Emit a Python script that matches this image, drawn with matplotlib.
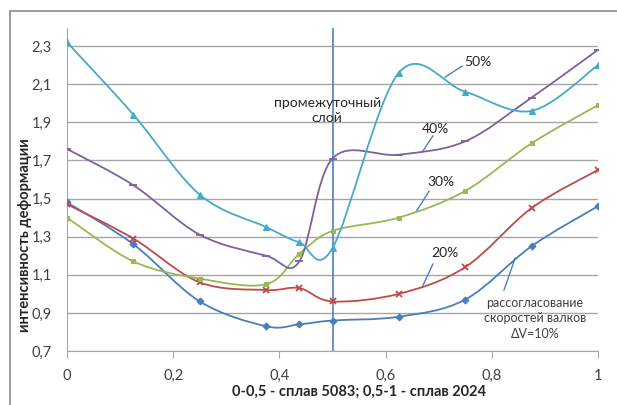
import numpy as np
import matplotlib.pyplot as plt
from matplotlib.path import Path
from matplotlib.patches import PathPatch, Rectangle
from matplotlib.ticker import FuncFormatter

plt.rcParams['font.family'] = ['Lato', 'DejaVu Sans']

# положение по толщине: 0-0,5 сплав 5083, 0,5-1 сплав 2024
x = [0, 0.125, 0.25, 0.375, 0.4375, 0.5, 0.625, 0.75, 0.875, 1]

dv10 = [1.48, 1.26, 0.96, 0.83, 0.84, 0.86, 0.88, 0.97, 1.25, 1.46]
dv20 = [1.47, 1.29, 1.06, 1.02, 1.03, 0.96, 1.00, 1.14, 1.45, 1.65]
dv30 = [1.40, 1.17, 1.08, 1.05, 1.21, 1.33, 1.40, 1.54, 1.79, 1.99]
dv40 = [1.76, 1.57, 1.31, 1.20, 1.17, 1.71, 1.73, 1.80, 2.03, 2.28]
dv50 = [2.32, 1.94, 1.52, 1.35, 1.27, 1.24, 2.16, 2.06, 1.96, 2.20]

series = [
    (dv10, '#4A7EBB', 'D', 3.5),
    (dv20, '#BE4B48', 'x', 4),
    (dv30, '#98B954', 's', 3.5),
    (dv40, '#7D60A0', '_', 6),
    (dv50, '#46AAC5', '^', 4.5),
]


def smooth_path(xs, ys):
    # сглаженная линия как в Excel: кубические Безье через точки
    p = np.column_stack([xs, ys]).astype(float)
    n = len(p)
    verts = [p[0]]
    codes = [Path.MOVETO]
    for i in range(n - 1):
        p0 = p[i - 1] if i > 0 else p[i]
        p3 = p[i + 2] if i + 2 < n else p[i + 1]
        c1 = p[i] + (p[i + 1] - p0) / 6
        c2 = p[i + 1] - (p3 - p[i]) / 6
        verts += [c1, c2, p[i + 1]]
        codes += [Path.CURVE4] * 3
    return Path(verts, codes)


fig = plt.figure(figsize=(6.17, 4.05), dpi=100)
ax = fig.add_axes([0.1086, 0.1333, 0.8606, 0.7977])

fig.patches.append(Rectangle((10 / 617, -0.1), 1.1, 1 - 11 / 405 + 0.1,
                             transform=fig.transFigure, fill=False,
                             edgecolor='#8c8c8c', linewidth=1.2))

for ys, c, m, ms in series:
    ax.add_patch(PathPatch(smooth_path(x, ys), facecolor='none',
                           edgecolor=c, linewidth=1.3, zorder=3))
    ax.plot(x, ys, linestyle='none', marker=m, color=c, markersize=ms,
            markeredgewidth=1.3 if m in 'x_' else 0.8, zorder=4)

ax.axvline(0.5, color='#4F81BD', linewidth=1.2, zorder=2)

ax.set_xlim(0, 1)
ax.set_ylim(0.7, 2.395)
ax.set_yticks(np.arange(0.7, 2.31, 0.2))
ax.set_xticks([0, 0.2, 0.4, 0.6, 0.8, 1])
comma = FuncFormatter(lambda v, pos: ('%g' % round(v, 2)).replace('.', ','))
ax.xaxis.set_major_formatter(comma)
ax.yaxis.set_major_formatter(comma)
ax.grid(axis='y', color='#a6a6a6', linewidth=1)
ax.set_axisbelow(True)
for s in ['top', 'right']:
    ax.spines[s].set_visible(False)
ax.spines['left'].set_color('#a6a6a6')
ax.spines['bottom'].set_color('#a6a6a6')
ax.tick_params(axis='y', length=0, labelsize=10.5, colors='#404040', pad=11)
ax.tick_params(axis='x', length=5, color='#a6a6a6', labelsize=10.5,
               colors='#404040', pad=8)

ax.set_ylabel('интенсивность деформации', fontsize=10.5, fontweight='bold',
              color='#262626', va='center')
ax.yaxis.set_label_coords(-0.079, 0.36)
ax.set_xlabel('0-0,5 - сплав 5083; 0,5-1 - сплав 2024', fontsize=10.5,
              fontweight='bold', color='#262626', va='center')
ax.xaxis.set_label_coords(0.55, -0.127)

txt = dict(fontsize=10, color='#262626', ha='center', va='center')
ax.text(0.49, 1.962, 'промежуточный\nслой', linespacing=1.3, **txt)
ax.text(0.773, 2.216, '50%', **txt)
ax.text(0.693, 1.865, '40%', **txt)
ax.text(0.704, 1.586, '30%', **txt)
ax.text(0.712, 1.214, '20%', **txt)
ax.text(0.881, 0.873, 'рассогласование\nскоростей валков\nΔV=10%',
        fontsize=9, color='#404040', ha='center', va='center',
        linespacing=1.35)

lead = dict(color='#4F81BD', linewidth=1)
ax.plot([0.712, 0.744], [2.137, 2.195], **lead)
ax.plot([0.669, 0.689], [1.744, 1.828], **lead)
ax.plot([0.657, 0.682], [1.429, 1.539], **lead)
ax.plot([0.669, 0.689], [1.036, 1.156], **lead)
ax.plot([0.823, 0.844], [1.020, 1.188], **lead)

fig.savefig('out.png', dpi=100)
